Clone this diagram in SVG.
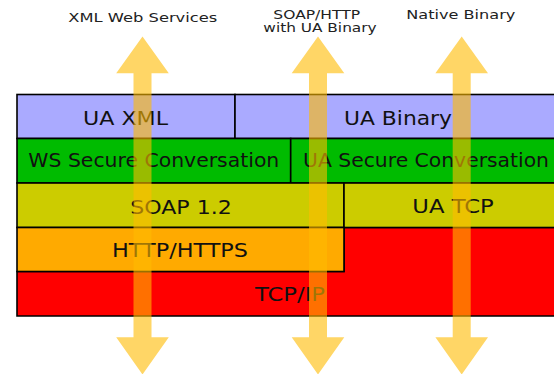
<svg xmlns="http://www.w3.org/2000/svg" xmlns:xlink="http://www.w3.org/1999/xlink" width="554" height="374" viewBox="0 0 554 374">
  <style>
    .box { stroke: #000; stroke-width: 1.6; }
    .blue { fill: #aaaaff; }
    .green { fill: #00bb00; }
    .olive { fill: #cccc00; }
    .orange { fill: #ffaa00; }
    .red { fill: #ff0000; }
    .t { font-family: "DejaVu Sans", Verdana, sans-serif; font-size: 20px; fill: #111; text-anchor: middle; }
    .lbl { font-family: "DejaVu Sans", Verdana, sans-serif; font-size: 12.5px; fill: #222; text-anchor: middle; }
    .lbl2 { font-size: 11.5px; }
    .arrow { fill: #ffbb00; fill-opacity: 0.6; }
  </style>
  <defs>
    <path id="dblarrow" d="M0,36.5 L26.3,73.3 L9,73.3 L9,337.3 L26.3,337.3 L0,374.5 L-26.3,337.3 L-9,337.3 L-9,73.3 L-26.3,73.3 Z"/>
  </defs>
  <rect width="554" height="374" fill="#fff"/>

  <g id="ua-xml">
    <rect class="box blue" x="17" y="94.5" width="218" height="44"/>
    <text class="t" x="125.5" y="125" textLength="85" lengthAdjust="spacingAndGlyphs">UA XML</text>
  </g>
  <g id="ua-binary">
    <rect class="box blue" x="235" y="94.5" width="326" height="44"/>
    <text class="t" x="398" y="124.5" textLength="108" lengthAdjust="spacingAndGlyphs">UA Binary</text>
  </g>
  <g id="ws-secure-conversation">
    <rect class="box green" x="17" y="138.5" width="273.7" height="44.5"/>
    <text class="t" x="153.8" y="167" textLength="251" lengthAdjust="spacingAndGlyphs">WS Secure Conversation</text>
  </g>
  <g id="ua-secure-conversation">
    <rect class="box green" x="290.7" y="138.5" width="270.3" height="44.5"/>
    <text class="t" x="426" y="167" textLength="246" lengthAdjust="spacingAndGlyphs">UA Secure Conversation</text>
  </g>
  <g id="tcp-ip">
    <path class="box red" d="M17,271.5 L344,271.5 L344,227.5 L561,227.5 L561,316 L17,316 Z"/>
    <text class="t" x="290" y="301" textLength="70" lengthAdjust="spacingAndGlyphs">TCP/IP</text>
  </g>
  <g id="soap-1-2">
    <rect class="box olive" x="17" y="183" width="327" height="44.5"/>
    <text class="t" x="181" y="213.5" textLength="101.5" lengthAdjust="spacingAndGlyphs">SOAP 1.2</text>
  </g>
  <g id="ua-tcp">
    <rect class="box olive" x="344" y="183" width="217" height="44.5"/>
    <text class="t" x="453" y="213" textLength="81.5" lengthAdjust="spacingAndGlyphs">UA TCP</text>
  </g>
  <g id="http-https">
    <rect class="box orange" x="17" y="227.5" width="327" height="44"/>
    <text class="t" x="180" y="257" textLength="136" lengthAdjust="spacingAndGlyphs">HTTP/HTTPS</text>
  </g>

  <g id="connectors">
    <use xlink:href="#dblarrow" href="#dblarrow" class="arrow" x="142.5" y="0"/>
    <use xlink:href="#dblarrow" href="#dblarrow" class="arrow" x="318" y="0"/>
    <use xlink:href="#dblarrow" href="#dblarrow" class="arrow" x="461.7" y="0"/>
  </g>

  <g id="label-xml-web-services">
    <text class="lbl" x="142.8" y="21.5" textLength="149" lengthAdjust="spacingAndGlyphs">XML Web Services</text>
  </g>
  <g id="label-soap-http">
    <text class="lbl lbl2" x="316.7" y="18.5" textLength="86.7" lengthAdjust="spacingAndGlyphs">SOAP/HTTP</text>
    <text class="lbl lbl2" x="320" y="32" textLength="113.3" lengthAdjust="spacingAndGlyphs">with UA Binary</text>
  </g>
  <g id="label-native-binary">
    <text class="lbl" x="460.8" y="18.5" textLength="109" lengthAdjust="spacingAndGlyphs">Native Binary</text>
  </g>
</svg>
